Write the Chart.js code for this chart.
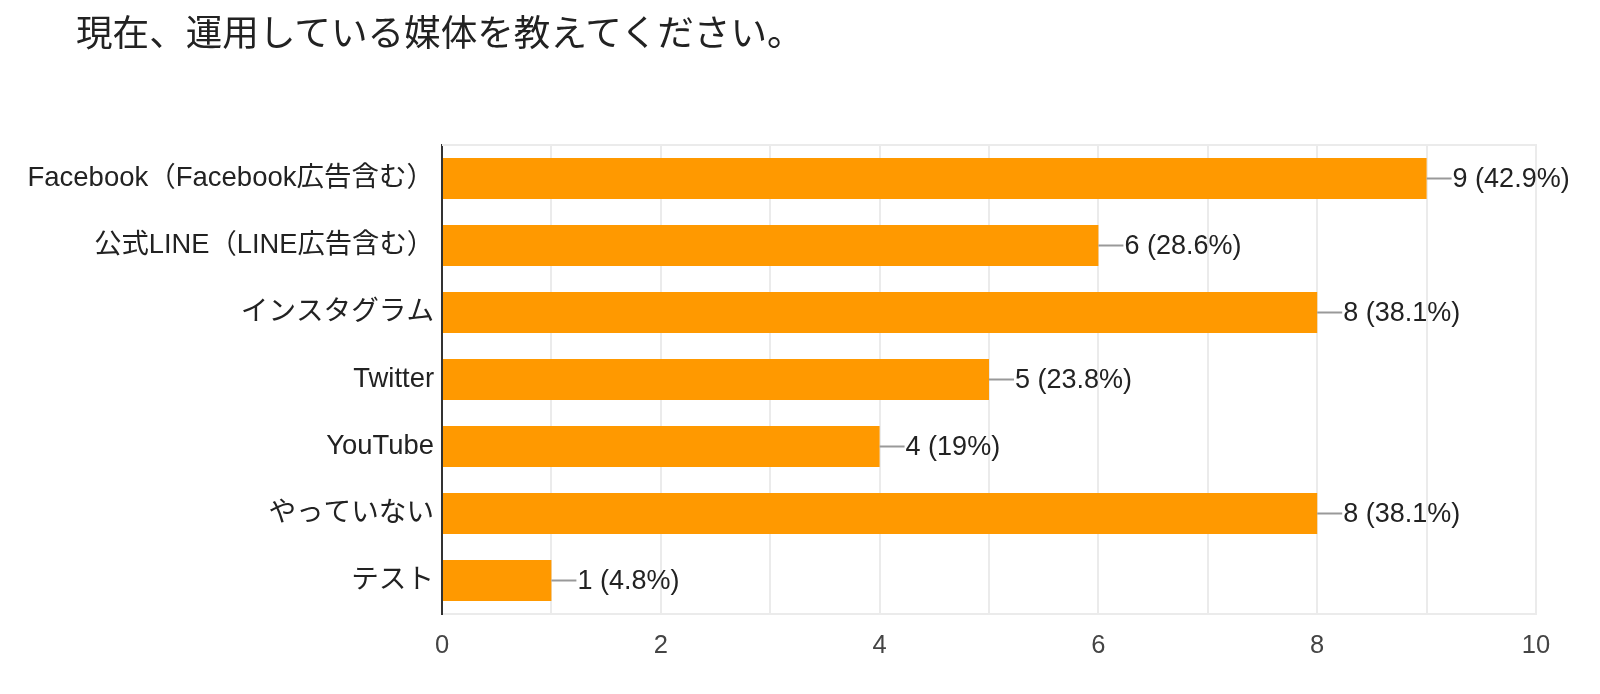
<!DOCTYPE html>
<html>
<head>
<meta charset="utf-8">
<script src="https://cdn.jsdelivr.net/npm/chart.js@4"></script>
<style>
  html, body { margin: 0; padding: 0; background: #fff; overflow: hidden; }
  #wrap { position: relative; width: 1600px; height: 694px; overflow: hidden; }
  #grafico { display: block; }
  #titulo {
    position: absolute; left: 76px; top: 15px; margin: 0;
    font: 400 36.6px/37px "Liberation Sans", "Noto Sans CJK JP", sans-serif;
    color: #222; white-space: nowrap;
  }
</style>
</head>
<body>
<div id="wrap">
  <canvas id="grafico" width="1600" height="694"></canvas>
  <h1 id="titulo">現在、運用している媒体を教えてください。</h1>
</div>
<script>
const categorias = [
  'Facebook（Facebook広告含む）',
  '公式LINE（LINE広告含む）',
  'インスタグラム',
  'Twitter',
  'YouTube',
  'やっていない',
  'テスト'
];
const respostas = [9, 6, 8, 5, 4, 8, 1];
const porcentagens = ['42.9', '28.6', '38.1', '23.8', '19', '38.1', '4.8'];
const tamanhoRotulo = [27.5, 27.3, 27.6, 27.4, 27.4, 27.6, 27.6];

const fonte = '"Liberation Sans", "Noto Sans CJK JP", sans-serif';

// desenha a borda clara do grafico
const bordaPlugin = {
  id: 'borda',
  beforeDatasetsDraw(chart) {
    const { ctx, chartArea: a } = chart;
    ctx.save();
    ctx.strokeStyle = '#ebebeb';
    ctx.lineWidth = 2;
    ctx.beginPath();
    ctx.moveTo(a.left, a.top);
    ctx.lineTo(a.right, a.top);
    ctx.lineTo(a.right, a.bottom);
    ctx.stroke();
    ctx.restore();
  }
};

// rotulos de valor com a linha guia
const rotuloPlugin = {
  id: 'rotulos',
  afterDatasetsDraw(chart) {
    const { ctx } = chart;
    const meta = chart.getDatasetMeta(0);
    ctx.save();
    meta.data.forEach((bar, i) => {
      ctx.strokeStyle = '#999';
      ctx.lineWidth = 2;
      ctx.beginPath();
      ctx.moveTo(bar.x, bar.y);
      ctx.lineTo(bar.x + 25, bar.y);
      ctx.stroke();
      ctx.fillStyle = '#222';
      ctx.font = '27px ' + fonte;
      ctx.textAlign = 'left';
      ctx.textBaseline = 'middle';
      ctx.fillText(respostas[i] + ' (' + porcentagens[i] + '%)', bar.x + 26, bar.y + 1);
    });
    ctx.restore();
  }
};

const ctx = document.getElementById('grafico').getContext('2d');
new Chart(ctx, {
  type: 'bar',
  data: {
    labels: categorias,
    datasets: [{
      data: respostas,
      backgroundColor: '#ff9900',
      borderWidth: 0,
      categoryPercentage: 1,
      barPercentage: 0.612
    }]
  },
  options: {
    indexAxis: 'y',
    responsive: false,
    animation: false,
    layout: { padding: { top: 145, right: 64, left: 0, bottom: 0 } },
    plugins: {
      legend: { display: false },
      tooltip: { enabled: false }
    },
    scales: {
      x: {
        min: 0,
        max: 10,
        ticks: {
          stepSize: 1,
          color: '#444',
          padding: 17,
          font: { size: 25.5, family: fonte },
          callback: v => (v % 2 === 0 ? v : '')
        },
        grid: { color: '#ebebeb', lineWidth: 2, drawTicks: false },
        border: { color: '#ebebeb', width: 2 },
        afterFit: s => { s.height = 80; }
      },
      y: {
        ticks: {
          color: '#222',
          padding: 8,
          font: c => ({ size: tamanhoRotulo[c.index], family: fonte })
        },
        grid: { display: false, drawTicks: false },
        border: { color: '#333', width: 2 },
        afterFit: s => { s.width = 442; }
      }
    }
  },
  plugins: [bordaPlugin, rotuloPlugin]
});
</script>
</body>
</html>
